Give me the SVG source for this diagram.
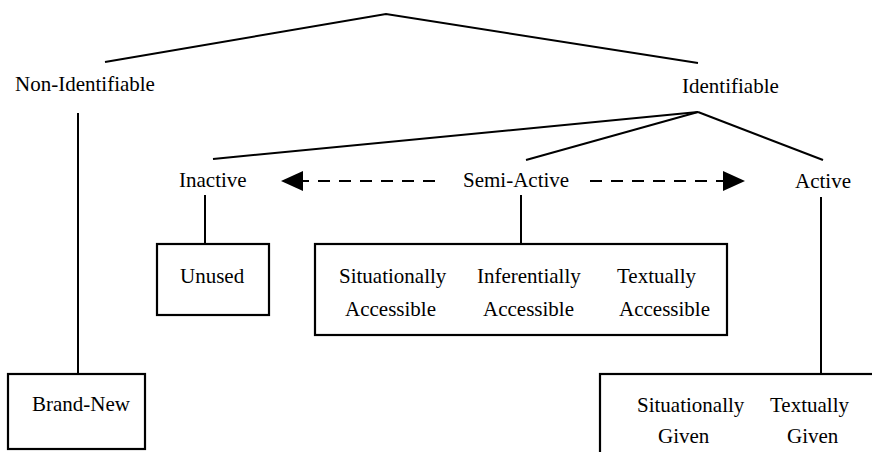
<svg xmlns="http://www.w3.org/2000/svg" width="872" height="452" viewBox="0 0 872 452">
<style>
.t{font-family:'Liberation Serif','Times New Roman','DejaVu Serif',serif;font-size:21px;fill:#000}
.l{stroke:#000;stroke-width:2;fill:none}
.b{stroke:#000;stroke-width:2.2;fill:#fff}
.d{stroke:#000;stroke-width:2;stroke-dasharray:12 9;fill:none}
</style>
<rect width="872" height="452" fill="#fff"/>
<g id="connectors">
<polyline class="l" points="105,62 386,14 698,63"/>
<line class="l" x1="698" y1="112" x2="213" y2="159"/>
<line class="l" x1="698" y1="112" x2="526" y2="160"/>
<line class="l" x1="698" y1="112" x2="823" y2="160"/>
<line class="l" x1="78" y1="113" x2="78" y2="374"/>
<line class="l" x1="205" y1="195" x2="205" y2="244"/>
<line class="l" x1="521" y1="195" x2="521" y2="244"/>
<line class="l" x1="821" y1="197" x2="821" y2="374"/>
<line class="d" x1="435" y1="181" x2="300" y2="181"/>
<polygon points="281,181 303,171 303,191" fill="#000"/>
<line class="d" x1="590" y1="181" x2="726" y2="181"/>
<polygon points="745,181 723,171 723,191" fill="#000"/>
</g>
<g id="non-identifiable"><text class="t" x="15" y="91" font-family="Liberation Serif, serif">Non-Identifiable</text></g>
<g id="identifiable"><text class="t" x="682" y="93">Identifiable</text></g>
<g id="inactive"><text class="t" x="179" y="187">Inactive</text></g>
<g id="semi-active"><text class="t" x="463" y="187">Semi-Active</text></g>
<g id="active"><text class="t" x="795" y="188">Active</text></g>
<g id="unused">
<rect class="b" x="157" y="244" width="112" height="71"/>
<text class="t" x="180" y="283">Unused</text>
</g>
<g id="accessible">
<rect class="b" x="315" y="244" width="412" height="91"/>
<text class="t" x="339" y="283">Situationally</text>
<text class="t" x="345" y="316">Accessible</text>
<text class="t" x="477" y="283">Inferentially</text>
<text class="t" x="483" y="316">Accessible</text>
<text class="t" x="617" y="283">Textually</text>
<text class="t" x="619" y="316">Accessible</text>
</g>
<g id="brand-new">
<rect class="b" x="8" y="374" width="137" height="75"/>
<text class="t" x="32" y="411">Brand-New</text>
</g>
<g id="given">
<rect class="b" x="600" y="374" width="300" height="100"/>
<text class="t" x="637" y="412">Situationally</text>
<text class="t" x="658" y="443">Given</text>
<text class="t" x="770" y="412">Textually</text>
<text class="t" x="787" y="443">Given</text>
</g>
</svg>
